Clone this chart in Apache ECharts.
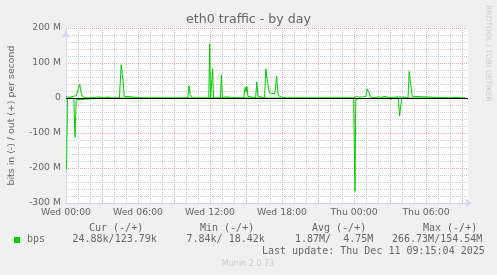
<!DOCTYPE html>
<html><head><meta charset="utf-8">
<script src="https://cdn.jsdelivr.net/npm/echarts@6/dist/echarts.min.js"></script>
<style>html,body{margin:0;padding:0;background:#f0f0f0}#c{width:497px;height:275px}</style>
</head><body><div id="c"></div>
<script>
// ---- data ----
const xTickHours = [0, 6, 12, 18, 24, 30];
const xTickLabels = ['Wed 00:00', 'Wed 06:00', 'Wed 12:00', 'Wed 18:00', 'Thu 00:00', 'Thu 06:00'];
const yTickValues = [-300, -200, -100, 0, 100, 200];
const yTickLabels = ['-300 M', '-200 M', '-100 M', '0', '100 M', '200 M'];

// out (+) traffic, Mbit/s, hours since Wed 00:00
const outHours = [0.0,0.15,0.3,0.45,0.6,0.75,0.85,1.0,1.14,1.28,1.4,1.6,1.8,2.2,2.35,2.5,2.65,2.8,2.95,3.15,3.4,3.6,3.8,4.45,4.6,4.75,4.85,5.0,6.45,6.55,6.65,8.05,8.15,8.25,8.7,8.8,8.9,10.15,10.25,10.35,10.45,10.55,10.88,10.95,11.05,11.9,11.97,12.05,12.15,12.22,12.3,12.88,12.95,13.03,13.25,13.45,13.6,13.7,13.9,14.0,14.82,14.92,15.0,15.08,15.16,15.25,15.8,15.9,16.0,16.1,16.55,16.65,16.8,16.95,17.05,17.15,17.28,17.4,17.55,17.68,17.82,17.95,18.1,18.42,18.5,18.6,24.0,24.12,24.2,24.3,24.42,24.6,24.78,24.9,25.0,25.1,25.25,25.38,25.6,25.8,26.0,26.1,26.3,26.5,26.6,26.8,27.0,27.2,27.4,27.6,27.7,28.2,28.5,28.6,28.72,28.85,29.0,31.95,32.05,32.5,32.6,32.95,33.02,33.1,33.25];
const outMbps  = [3,5,2,4,5,3,6,8,40,12,3,1,0,2,4,2,5,3,4,0,3,2,0,0,95,50,5,0,0,3,0,0,4,0,0,2,0,0,35,10,12,0,0,3,0,0,155,0,0,84,0,0,66,0,3,3,5,2,1,0,0,31,18,33,5,0,0,46,5,0,0,83,45,15,12,13,10,12,63,8,5,2,0,0,1,0,0,3,5,4,2,3,3,2,5,26,15,3,1,2,3,1,2,4,2,3,1,2,2,3,1,2,0,76,40,5,0,0,2,2,0,0,2,0,0];

// in (-) traffic, Mbit/s magnitudes (drawn below zero)
const inHours = [0.05,0.12,0.3,0.35,0.45,0.65,0.75,0.85,1.0,3.0,3.1,3.2,23.97,24.08,24.15,24.25,24.35,24.5,26.98,27.05,27.12,27.7,27.8,27.9,28.0,33.25];
const inMbps  = [205,3,0,3,0,0,112,5,0,0,5,0,0,267,5,8,2,0,0,6,0,0,52,20,0,0];

const legendHeaders = ['Cur (-/+)', 'Min (-/+)', 'Avg (-/+)', 'Max (-/+)'];
const legendValues = ['24.88k/123.79k', '7.84k/ 18.42k', '1.87M/  4.75M', '266.73M/154.54M'];
const seriesName = 'bps';
const lastUpdate = 'Last update: Thu Dec 11 09:15:04 2025';

// ---- chart ----
const outData = outHours.map((h, i) => [h, outMbps[i]]);
const inData = inHours.map((h, i) => [h, -inMbps[i]]);

const FONT_COLOR = '#666';
const SANS = 'DejaVu Sans';
const MONO = 'DejaVu Sans Mono';
const GRID_MINOR = '#d0d0d0';
const GRID_MAJOR = '#f0a8a8';
const AXIS_COLOR = '#cfd6f8';

const chart = echarts.init(document.getElementById('c'), null, {renderer: 'canvas'});

const txt = (text, x, y, opts) => Object.assign({
  type: 'text', x: x, y: y, silent: true,
  style: Object.assign({
    text: text, fill: FONT_COLOR, font: '10px ' + MONO,
    align: 'left', verticalAlign: 'middle', textAlign: 'left', textVerticalAlign: 'middle'
  }, (opts && opts.style) || {})
}, (opts && opts.el) || {});

const headerX = [89, 200, 312, 423];
const valueX = [72.5, 186.5, 295, 392];

const graphics = [
  txt('eth0 traffic - by day', 248.5, 20, {style: {font: '12.6px ' + SANS, align: 'center', textAlign: 'center'}}),
  txt('bits in (-) / out (+) per second', 11.5, 115.5, {style: {font: '9.4px ' + SANS, align: 'center', textAlign: 'center'}, el: {rotation: Math.PI / 2}}),
  txt('RRDTOOL / TOBI OETIKER', 487.5, 53.5, {style: {font: '7.5px ' + SANS, fill: '#cccccc', align: 'center', textAlign: 'center'}, el: {rotation: -Math.PI / 2}}),
  {type: 'rect', shape: {x: 14, y: 237, width: 6, height: 6}, style: {fill: '#00cc00'}, silent: true},
  txt(seriesName, 27, 239.5),
  txt(lastUpdate, 262, 251),
  txt('Munin 2.0.73', 248, 264, {style: {font: '8px ' + SANS, fill: '#cccccc', align: 'center', textAlign: 'center'}})
];
legendHeaders.forEach((h, i) => graphics.push(txt(h, headerX[i], 228)));
legendValues.forEach((v, i) => graphics.push(txt(v, valueX[i], 239.5)));

const X_MAX = 33.5;
const gridPos = {left: 66, top: 28, width: 402, height: 175};

chart.setOption({
  animation: false,
  backgroundColor: '#f0f0f0',
  grid: Object.assign({show: true, backgroundColor: '#ffffff', borderWidth: 0}, gridPos),
  xAxis: [{
    type: 'value', min: 0, max: X_MAX, interval: 1,
    axisLine: {show: true, onZero: false, symbol: ['none', 'arrow'], symbolSize: [7, 7], symbolOffset: [0, 4], lineStyle: {color: AXIS_COLOR, width: 1}},
    axisTick: {show: false},
    axisLabel: {
      margin: 5, color: FONT_COLOR, fontFamily: SANS, fontSize: 9.3, showMaxLabel: false,
      formatter: v => { const k = xTickHours.indexOf(Math.round(v * 1000) / 1000); return k >= 0 ? xTickLabels[k] : ''; }
    },
    splitLine: {show: true, showMinLine: false, showMaxLine: false, lineStyle: {color: GRID_MINOR, type: [1, 1], width: 1}}
  }, {
    type: 'value', min: 0, max: X_MAX, interval: 3, position: 'bottom',
    axisLine: {show: false}, axisTick: {show: false}, axisLabel: {show: false},
    splitLine: {show: true, showMinLine: false, showMaxLine: false, lineStyle: {color: GRID_MAJOR, type: [1, 1], width: 1}}
  }],
  yAxis: [{
    type: 'value', min: -300, max: 200, interval: 20,
    axisLine: {show: true, onZero: false, symbol: ['none', 'arrow'], symbolSize: [7, 7], symbolOffset: [0, -3], lineStyle: {color: AXIS_COLOR, width: 1}},
    axisTick: {show: false},
    axisLabel: {
      margin: 5, color: FONT_COLOR, fontFamily: SANS, fontSize: 9.3,
      formatter: v => { const k = yTickValues.indexOf(Math.round(v)); return k >= 0 ? yTickLabels[k] : ''; }
    },
    splitLine: {show: true, showMinLine: false, lineStyle: {color: GRID_MINOR, type: [1, 1], width: 1}}
  }, {
    type: 'value', min: -300, max: 200, interval: 100, position: 'left',
    axisLine: {show: false}, axisTick: {show: false}, axisLabel: {show: false},
    splitLine: {show: true, showMinLine: false, lineStyle: {color: GRID_MAJOR, type: [1, 1], width: 1}}
  }],
  series: [{
    name: 'out', type: 'line', data: outData, xAxisIndex: 0, yAxisIndex: 0,
    showSymbol: false, symbol: 'none', lineStyle: {color: '#00cc00', width: 1}, z: 3, silent: true
  }, {
    name: 'in', type: 'line', data: inData, xAxisIndex: 0, yAxisIndex: 0,
    showSymbol: false, symbol: 'none', lineStyle: {color: '#00cc00', width: 1}, z: 3, silent: true,
    markLine: {
      silent: true, symbol: 'none', label: {show: false}, animation: false,
      lineStyle: {color: '#000000', type: 'solid', width: 1},
      data: [{yAxis: 0}]
    }
  }],
  graphic: graphics
});
</script></body></html>
